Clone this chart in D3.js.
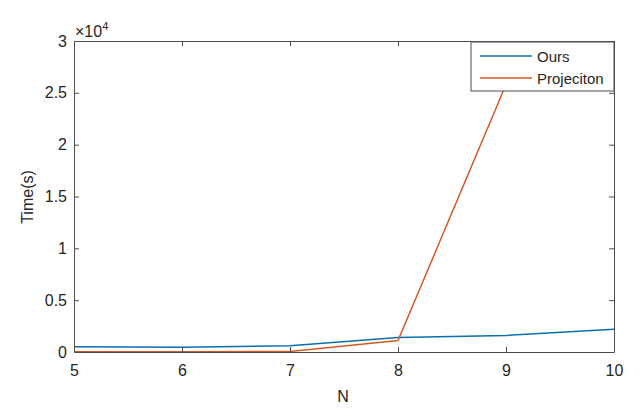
<!DOCTYPE html>
<html>
<head>
<meta charset="utf-8">
<script src="https://cdn.jsdelivr.net/npm/d3@7"></script>
<style>
  body { margin: 0; background: #fff; }
  text { font-family: "Liberation Sans", Arial, sans-serif; fill: #262626; }
</style>
</head>
<body>
<svg width="640" height="412"></svg>
<script>
var nValues = [5, 6, 7, 8, 9, 10];
var oursTime = [500, 450, 600, 1400, 1600, 2200];
var projTime = [20, 20, 50, 1100, 25800, 60000];
var yTicks = [0, 5000, 10000, 15000, 20000, 25000, 30000];
var seriesNames = ["Ours", "Projeciton"];
var seriesColors = ["#0a6fb0", "#d35a22"];

var svg = d3.select("svg"),
    pLeft = 74, pRight = 614, pTop = 41, pBottom = 352,
    axisColor = "#4d4d4d";

var x = d3.scaleLinear().domain([5, 10]).range([pLeft, pRight]);
var y = d3.scaleLinear().domain([0, 30000]).range([pBottom, pTop]);

svg.append("defs").append("clipPath").attr("id", "plot")
  .append("rect")
    .attr("x", pLeft).attr("y", pTop)
    .attr("width", pRight - pLeft).attr("height", pBottom - pTop);

// lines
var line = d3.line()
  .x(function(d) { return x(d[0]); })
  .y(function(d) { return y(d[1]); });

[oursTime, projTime].forEach(function(vals, i) {
  svg.append("path")
    .datum(nValues.map(function(n, j) { return [n, vals[j]]; }))
    .attr("clip-path", "url(#plot)")
    .attr("fill", "none")
    .attr("stroke", seriesColors[i])
    .attr("stroke-width", 1.5)
    .attr("d", line);
});

// axes (ticks inside, mirrored on box)
function styleAxis(g) {
  g.select(".domain").attr("stroke", axisColor);
  g.selectAll(".tick line").attr("stroke", axisColor);
  g.selectAll(".tick text").attr("font-size", 16).attr("fill", "#262626");
}

svg.append("g")
  .attr("transform", "translate(0," + pBottom + ")")
  .call(d3.axisBottom(x).tickValues(nValues).tickSizeInner(-5).tickSizeOuter(0).tickPadding(13)
    .tickFormat(d3.format("d")))
  .call(styleAxis);

svg.append("g")
  .attr("transform", "translate(0," + pTop + ")")
  .call(d3.axisTop(x).tickValues(nValues).tickSizeInner(-5).tickSizeOuter(0).tickFormat(""))
  .call(styleAxis);

svg.append("g")
  .attr("transform", "translate(" + pLeft + ",0)")
  .call(d3.axisLeft(y).tickValues(yTicks).tickSizeInner(-5).tickSizeOuter(0).tickPadding(7)
    .tickFormat(function(d) { return d3.format("~g")(d / 10000); }))
  .call(styleAxis);

svg.append("g")
  .attr("transform", "translate(" + pRight + ",0)")
  .call(d3.axisRight(y).tickValues(yTicks).tickSizeInner(-5).tickSizeOuter(0).tickFormat(""))
  .call(styleAxis);

// exponent label
var ex = svg.append("text").attr("x", 75).attr("y", 37).attr("font-size", 16);
ex.append("tspan").text("\u00d710");
ex.append("tspan").attr("dy", -7).attr("font-size", 11).text("4");

// axis labels
svg.append("text")
  .attr("x", 343).attr("y", 402)
  .attr("text-anchor", "middle").attr("font-size", 16)
  .text("N");

svg.append("text")
  .attr("transform", "translate(33,197) rotate(-90)")
  .attr("text-anchor", "middle").attr("font-size", 16)
  .text("Time(s)");

// legend
var lg = svg.append("g");
lg.append("rect")
  .attr("x", 471).attr("y", 42).attr("width", 143).attr("height", 49)
  .attr("fill", "#fff").attr("stroke", axisColor).attr("stroke-width", 1);

seriesNames.forEach(function(name, i) {
  var ly = 56 + i * 22;
  lg.append("line")
    .attr("x1", 480).attr("x2", 532).attr("y1", ly).attr("y2", ly)
    .attr("stroke", seriesColors[i]).attr("stroke-width", 1.5);
  lg.append("text")
    .attr("x", 537).attr("y", ly + 6).attr("font-size", 15)
    .text(name);
});
</script>
</body>
</html>
